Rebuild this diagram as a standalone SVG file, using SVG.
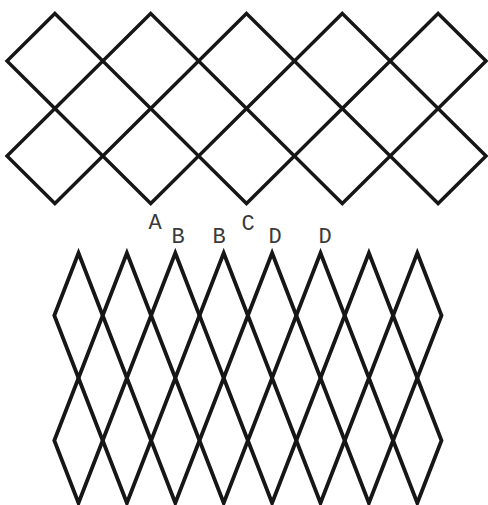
<svg xmlns="http://www.w3.org/2000/svg" xmlns:xlink="http://www.w3.org/1999/xlink" width="488" height="505" viewBox="0 0 488 505">
  <style>
    .ln { fill: none; stroke: #161616; stroke-linejoin: miter; }
    .sq { stroke-width: 3.4; }
    .dm { stroke-width: 3.8; }
    .lbl { font-family: "Liberation Mono", "Liberation Serif", "DejaVu Serif", serif; font-size: 22px; fill: #3a3a3a; text-anchor: middle; }
  </style>
  <defs>
    <polygon id="sq" class="ln sq" points="0,-47.5 47.9,0 0,47.5 -47.9,0"/>
    <polygon id="dm" class="ln dm" points="0,-62.5 24.2,0 0,62.5 -24.2,0"/>
  </defs>
  <rect width="488" height="505" fill="#ffffff"/>

  <g id="top-lattice">
    <use xlink:href="#sq" href="#sq" x="54.9" y="61"/>
    <use xlink:href="#sq" href="#sq" x="150.7" y="61"/>
    <use xlink:href="#sq" href="#sq" x="246.5" y="61"/>
    <use xlink:href="#sq" href="#sq" x="342.3" y="61"/>
    <use xlink:href="#sq" href="#sq" x="438.1" y="61"/>
    <use xlink:href="#sq" href="#sq" x="54.9" y="156"/>
    <use xlink:href="#sq" href="#sq" x="150.7" y="156"/>
    <use xlink:href="#sq" href="#sq" x="246.5" y="156"/>
    <use xlink:href="#sq" href="#sq" x="342.3" y="156"/>
    <use xlink:href="#sq" href="#sq" x="438.1" y="156"/>
  </g>

  <g id="bottom-lattice">
    <use xlink:href="#dm" href="#dm" x="78.5" y="315.5"/>
    <use xlink:href="#dm" href="#dm" x="126.9" y="315.5"/>
    <use xlink:href="#dm" href="#dm" x="175.3" y="315.5"/>
    <use xlink:href="#dm" href="#dm" x="223.7" y="315.5"/>
    <use xlink:href="#dm" href="#dm" x="272.1" y="315.5"/>
    <use xlink:href="#dm" href="#dm" x="320.5" y="315.5"/>
    <use xlink:href="#dm" href="#dm" x="368.9" y="315.5"/>
    <use xlink:href="#dm" href="#dm" x="417.3" y="315.5"/>
    <use xlink:href="#dm" href="#dm" x="78.5" y="440.5"/>
    <use xlink:href="#dm" href="#dm" x="126.9" y="440.5"/>
    <use xlink:href="#dm" href="#dm" x="175.3" y="440.5"/>
    <use xlink:href="#dm" href="#dm" x="223.7" y="440.5"/>
    <use xlink:href="#dm" href="#dm" x="272.1" y="440.5"/>
    <use xlink:href="#dm" href="#dm" x="320.5" y="440.5"/>
    <use xlink:href="#dm" href="#dm" x="368.9" y="440.5"/>
    <use xlink:href="#dm" href="#dm" x="417.3" y="440.5"/>
  </g>

  <g id="labels">
    <text class="lbl" x="155" y="229">A</text>
    <text class="lbl" x="178" y="243">B</text>
    <text class="lbl" x="219" y="243">B</text>
    <text class="lbl" x="248" y="230">C</text>
    <text class="lbl" x="275" y="243">D</text>
    <text class="lbl" x="325" y="243">D</text>
  </g>
</svg>
